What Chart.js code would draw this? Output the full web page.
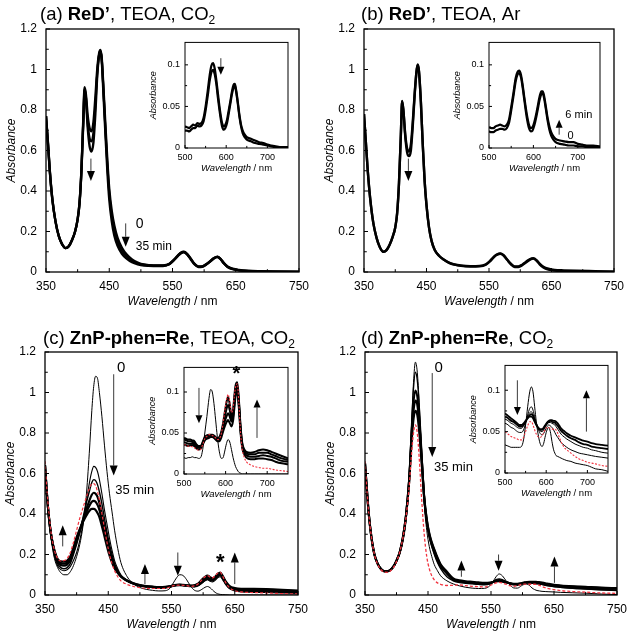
<!DOCTYPE html>
<html>
<head>
<meta charset="utf-8">
<script src="https://cdn.jsdelivr.net/npm/chart.js@4.4.1/dist/chart.umd.min.js"></script>
<style>
  body { margin: 0; background: #fff; width: 638px; height: 638px; position: relative; overflow: hidden; }
  canvas { position: absolute; }
</style>
</head>
<body>
<script>
// ---- wavelength grids (nm) ----
const wlAB = [350,353,356,360,365,370,375,381,386,391, 396,400,403,406,409,411,413,416,419,422,
  425,428,431,434,436,438,441,444,447,450, 454,458,463,470,478,486,495,505,520,535,
  545,552,558,563,568,573,579,585,591,597, 603,609,615,621,626,631,637,645,655,670, 690,720,750];
const wlCD = [350,353,356,360,365,370,375,380,385,390, 395,400,405,410,415,420,424,427,430,433,
  436,440,444,448,452,456,460,465,470,480, 490,500,510,520,530,540,548,553,558,563,
  568,574,580,586,592,598,603,607,611,615, 619,623,627,631,636,642,650,660,680,700, 725,750];
const wlIn = [500,505,510,515,520,525,530,535,540,545, 550,555,560,564,568,572,576,580,585,590,
  594,598,602,606,610,614,618,621,624,628, 632,636,640,645,650,660,670,680,690,700, 710,720,735,750];

// ---- tick values / labels ----
const mainXTicks = [350, 450, 550, 650, 750];
const mainXMinor = [400, 500, 600, 700];
const mainYTicks = [0, 0.2, 0.4, 0.6, 0.8, 1, 1.2];
const mainYLabels = ['0', '0.2', '0.4', '0.6', '0.8', '1', '1.2'];
const mainYMinor = [0.1, 0.3, 0.5, 0.7, 0.9, 1.1];
const inXTicks = [500, 600, 700];
const inXMinor = [550, 650];
const inYTicks = [0, 0.05, 0.1];
const inYLabels = ['0', '0.05', '0.1'];
const inYMinor = [0.025, 0.075];

// ---- (a) ReD', TEOA, CO2 : 0 -> 35 min ----
const a0 = [0.77,0.64,0.5,0.36,0.25,0.18,0.14,0.118,0.127,0.157, 0.2,0.26,0.34,0.5,0.76,0.912,0.88,0.77,0.71,0.695,
  0.74,0.86,1.0,1.08,1.097,1.06,0.9,0.72,0.55,0.41, 0.3,0.23,0.17,0.12,0.085,0.062,0.047,0.037,0.032,0.032,
  0.04,0.06,0.08,0.095,0.1,0.09,0.065,0.04,0.027,0.028, 0.038,0.052,0.068,0.076,0.065,0.045,0.027,0.016,0.01,0.006, 0.004,0.002,0.001];
const aMid = [0.77,0.64,0.5,0.36,0.25,0.18,0.14,0.118,0.127,0.157, 0.2,0.26,0.34,0.5,0.75,0.905,0.87,0.73,0.66,0.645,
  0.69,0.82,0.98,1.075,1.092,1.055,0.89,0.7,0.53,0.39, 0.28,0.205,0.15,0.105,0.075,0.055,0.042,0.035,0.031,0.031,
  0.039,0.059,0.079,0.094,0.099,0.089,0.064,0.039,0.026,0.027, 0.037,0.051,0.067,0.075,0.064,0.044,0.026,0.015,0.009,0.005, 0.003,0.002,0.001];
const a35 = [0.77,0.64,0.5,0.36,0.25,0.18,0.14,0.118,0.127,0.157, 0.2,0.26,0.34,0.5,0.74,0.9,0.86,0.71,0.62,0.595,
  0.64,0.78,0.97,1.07,1.088,1.05,0.87,0.68,0.5,0.36, 0.25,0.18,0.13,0.09,0.065,0.048,0.038,0.032,0.03,0.03,
  0.038,0.057,0.077,0.092,0.097,0.087,0.062,0.037,0.025,0.026, 0.036,0.05,0.066,0.074,0.063,0.043,0.025,0.014,0.008,0.004, 0.002,0.001,0];
const aIn0 = [0.026,0.025,0.024,0.026,0.028,0.027,0.03,0.029,0.03,0.036, 0.05,0.068,0.088,0.099,0.102,0.096,0.082,0.065,0.045,0.03,
  0.026,0.028,0.034,0.045,0.056,0.068,0.076,0.077,0.07,0.056, 0.04,0.028,0.021,0.016,0.013,0.011,0.009,0.007,0.006,0.004, 0.003,0.002,0.001,0.001];
const aIn35 = [0.021,0.021,0.02,0.022,0.024,0.024,0.027,0.026,0.027,0.032, 0.045,0.062,0.081,0.091,0.094,0.089,0.077,0.06,0.041,0.026,
  0.022,0.024,0.03,0.041,0.053,0.065,0.073,0.075,0.068,0.054, 0.038,0.026,0.018,0.013,0.01,0.008,0.006,0.005,0.004,0.003, 0.002,0.001,0.001,0];

// ---- (b) ReD', TEOA, Ar : 0 -> 6 min ----
const b0 = [0.78,0.64,0.5,0.36,0.24,0.17,0.125,0.1,0.108,0.135, 0.175,0.22,0.29,0.44,0.68,0.842,0.8,0.68,0.61,0.595,
  0.63,0.74,0.88,0.99,1.022,0.99,0.84,0.63,0.45,0.33, 0.22,0.155,0.11,0.08,0.06,0.045,0.036,0.03,0.027,0.028,
  0.036,0.054,0.074,0.085,0.09,0.082,0.06,0.038,0.025,0.025, 0.033,0.047,0.06,0.066,0.056,0.038,0.022,0.012,0.007,0.004, 0.003,0.002,0.001];
const b6 = [0.78,0.64,0.5,0.36,0.24,0.17,0.125,0.1,0.108,0.135, 0.175,0.22,0.29,0.44,0.68,0.845,0.8,0.67,0.59,0.572,
  0.6,0.72,0.87,0.99,1.025,0.99,0.84,0.63,0.45,0.33, 0.22,0.155,0.11,0.08,0.06,0.046,0.037,0.032,0.029,0.03,
  0.038,0.056,0.076,0.087,0.092,0.084,0.062,0.041,0.028,0.028, 0.036,0.05,0.063,0.068,0.059,0.041,0.026,0.016,0.01,0.008, 0.006,0.004,0.002];
const bIn0 = [0.02,0.019,0.019,0.021,0.022,0.023,0.023,0.022,0.024,0.03, 0.045,0.062,0.08,0.088,0.09,0.085,0.072,0.056,0.037,0.024,
  0.02,0.021,0.027,0.036,0.047,0.058,0.065,0.066,0.06,0.047, 0.033,0.022,0.015,0.01,0.007,0.005,0.004,0.003,0.003,0.002, 0.002,0.001,0.001,0.001];
const bIn6 = [0.025,0.024,0.024,0.026,0.027,0.028,0.027,0.026,0.028,0.034, 0.049,0.066,0.084,0.091,0.093,0.088,0.075,0.059,0.041,0.028,
  0.024,0.025,0.031,0.04,0.051,0.062,0.068,0.068,0.063,0.05, 0.036,0.026,0.019,0.014,0.011,0.009,0.008,0.007,0.007,0.005, 0.004,0.003,0.003,0.002];

// ---- (c) ZnP-phen=Re, TEOA, CO2 ----
const c0 = [0.64,0.5,0.38,0.27,0.18,0.135,0.11,0.1,0.1,0.115, 0.145,0.19,0.25,0.34,0.48,0.7,0.91,1.03,1.08,1.07,
  1.0,0.88,0.74,0.61,0.5,0.41,0.32,0.23,0.16,0.09, 0.055,0.037,0.028,0.023,0.02,0.021,0.035,0.06,0.085,0.1,
  0.097,0.075,0.045,0.024,0.019,0.028,0.038,0.042,0.036,0.024, 0.013,0.006,0.003,0.002,0.001,0,0,0,0,0, 0,0];
const c1 = [0.64,0.5,0.38,0.28,0.19,0.145,0.125,0.12,0.125,0.14, 0.17,0.21,0.27,0.35,0.45,0.55,0.61,0.635,0.63,0.61,
  0.57,0.5,0.42,0.35,0.28,0.22,0.17,0.13,0.1,0.07, 0.055,0.045,0.04,0.037,0.035,0.036,0.04,0.045,0.05,0.052,
  0.05,0.047,0.043,0.04,0.045,0.058,0.07,0.075,0.068,0.065, 0.072,0.085,0.09,0.075,0.05,0.03,0.02,0.015,0.013,0.012, 0.01,0.008];
const c2 = [0.64,0.5,0.39,0.29,0.2,0.155,0.135,0.13,0.135,0.155, 0.2,0.25,0.31,0.38,0.45,0.51,0.555,0.57,0.565,0.545,
  0.51,0.45,0.38,0.31,0.25,0.2,0.155,0.12,0.095,0.07, 0.055,0.045,0.04,0.037,0.035,0.036,0.04,0.045,0.048,0.05,
  0.048,0.046,0.043,0.042,0.047,0.06,0.072,0.078,0.072,0.07, 0.078,0.09,0.096,0.08,0.055,0.034,0.024,0.019,0.017,0.016, 0.013,0.011];
const c3 = [0.64,0.5,0.39,0.29,0.21,0.165,0.148,0.145,0.15,0.17, 0.215,0.265,0.315,0.37,0.42,0.465,0.495,0.505,0.5,0.485,
  0.455,0.4,0.34,0.28,0.225,0.18,0.145,0.115,0.092,0.07, 0.056,0.047,0.042,0.039,0.037,0.038,0.042,0.046,0.048,0.049,
  0.048,0.046,0.044,0.044,0.05,0.065,0.078,0.085,0.078,0.075, 0.082,0.095,0.102,0.085,0.058,0.037,0.027,0.023,0.022,0.021, 0.018,0.015];
const c4 = [0.64,0.5,0.39,0.29,0.215,0.17,0.158,0.155,0.16,0.18, 0.225,0.275,0.32,0.365,0.405,0.44,0.46,0.465,0.46,0.445,
  0.42,0.37,0.315,0.26,0.21,0.17,0.138,0.112,0.092,0.07, 0.057,0.048,0.043,0.04,0.038,0.039,0.043,0.047,0.049,0.05,
  0.049,0.047,0.045,0.046,0.053,0.07,0.084,0.09,0.083,0.079, 0.086,0.1,0.107,0.09,0.062,0.04,0.03,0.026,0.026,0.025, 0.022,0.019];
const c5 = [0.64,0.5,0.39,0.29,0.22,0.178,0.166,0.165,0.17,0.19, 0.235,0.285,0.325,0.36,0.39,0.415,0.425,0.425,0.42,0.405,
  0.385,0.34,0.29,0.24,0.195,0.16,0.132,0.11,0.092,0.071, 0.058,0.049,0.044,0.041,0.039,0.04,0.044,0.048,0.05,0.051,
  0.05,0.048,0.046,0.048,0.056,0.075,0.09,0.096,0.088,0.083, 0.09,0.104,0.111,0.094,0.066,0.044,0.034,0.03,0.03,0.029, 0.026,0.022];
const cRed = [0.66,0.52,0.41,0.3,0.22,0.18,0.168,0.17,0.18,0.21, 0.26,0.32,0.38,0.43,0.48,0.525,0.548,0.55,0.54,0.51,
  0.47,0.4,0.33,0.26,0.2,0.155,0.12,0.09,0.07,0.052, 0.042,0.036,0.033,0.032,0.032,0.033,0.04,0.046,0.048,0.049,
  0.048,0.046,0.043,0.045,0.054,0.075,0.09,0.096,0.088,0.085, 0.095,0.108,0.113,0.092,0.06,0.035,0.022,0.015,0.012,0.01, 0.007,0.005];
const cIn0 = [0.02,0.019,0.02,0.02,0.021,0.02,0.02,0.019,0.02,0.03, 0.05,0.07,0.092,0.103,0.1,0.086,0.066,0.046,0.027,0.019,
  0.02,0.028,0.037,0.042,0.039,0.03,0.02,0.014,0.009,0.005, 0.002,0.001,0,0,0,0,0,0,0,0, 0,0,0,0];
const cIn1 = [0.036,0.035,0.034,0.035,0.035,0.034,0.031,0.03,0.031,0.036, 0.041,0.043,0.044,0.045,0.045,0.044,0.042,0.04,0.04,0.045,
  0.052,0.058,0.063,0.066,0.062,0.058,0.065,0.08,0.095,0.1, 0.08,0.05,0.032,0.024,0.02,0.018,0.018,0.019,0.019,0.018, 0.017,0.015,0.013,0.012];
const cIn2 = [0.039,0.038,0.037,0.037,0.037,0.036,0.033,0.032,0.032,0.037, 0.043,0.045,0.046,0.046,0.046,0.045,0.043,0.042,0.042,0.048,
  0.056,0.064,0.07,0.074,0.07,0.064,0.07,0.085,0.099,0.104, 0.084,0.053,0.034,0.026,0.023,0.021,0.021,0.022,0.023,0.022, 0.021,0.019,0.016,0.015];
const cIn3 = [0.042,0.041,0.04,0.04,0.039,0.038,0.035,0.033,0.033,0.038, 0.044,0.046,0.047,0.047,0.047,0.046,0.044,0.043,0.044,0.05,
  0.059,0.069,0.079,0.084,0.078,0.068,0.074,0.09,0.104,0.108, 0.087,0.056,0.036,0.028,0.025,0.024,0.024,0.026,0.026,0.026, 0.024,0.022,0.019,0.017];
const cIn4 = [0.044,0.043,0.042,0.042,0.041,0.04,0.036,0.034,0.034,0.039, 0.045,0.047,0.048,0.048,0.048,0.047,0.045,0.044,0.045,0.052,
  0.062,0.075,0.087,0.094,0.085,0.072,0.078,0.095,0.108,0.112, 0.09,0.058,0.038,0.03,0.027,0.026,0.027,0.029,0.03,0.029, 0.027,0.025,0.022,0.019];
const cInRed = [0.036,0.035,0.034,0.034,0.033,0.032,0.03,0.029,0.03,0.036, 0.043,0.046,0.048,0.048,0.047,0.046,0.044,0.042,0.043,0.05,
  0.062,0.077,0.09,0.097,0.088,0.075,0.08,0.095,0.106,0.11, 0.085,0.05,0.03,0.02,0.015,0.011,0.009,0.008,0.007,0.007, 0.006,0.005,0.004,0.003];

// ---- (d) ZnP-phen=Re, CO2 ----
const d0 = [0.65,0.52,0.4,0.29,0.2,0.155,0.13,0.118,0.115,0.12, 0.135,0.16,0.2,0.26,0.36,0.55,0.85,1.05,1.15,1.1,
  0.95,0.68,0.45,0.32,0.24,0.19,0.15,0.12,0.095,0.07, 0.055,0.045,0.038,0.034,0.032,0.033,0.045,0.065,0.09,0.104,
  0.095,0.07,0.05,0.035,0.034,0.045,0.053,0.054,0.047,0.035, 0.027,0.022,0.02,0.018,0.017,0.016,0.015,0.013,0.011,0.009, 0.005,0.002];
const d1 = [0.65,0.52,0.4,0.29,0.2,0.155,0.13,0.118,0.116,0.122, 0.14,0.17,0.21,0.28,0.39,0.58,0.85,1.02,1.1,1.06,
  0.94,0.72,0.5,0.37,0.29,0.24,0.2,0.16,0.13,0.09, 0.07,0.061,0.058,0.055,0.052,0.05,0.055,0.065,0.076,0.08,
  0.076,0.066,0.058,0.052,0.052,0.056,0.06,0.061,0.06,0.058, 0.056,0.055,0.054,0.052,0.048,0.045,0.042,0.038,0.033,0.03, 0.026,0.023];
const d2 = [0.65,0.52,0.4,0.29,0.2,0.155,0.13,0.118,0.117,0.123, 0.14,0.17,0.21,0.28,0.39,0.57,0.8,0.95,1.01,0.98,
  0.88,0.68,0.48,0.36,0.29,0.245,0.21,0.17,0.14,0.105, 0.075,0.066,0.062,0.059,0.056,0.054,0.057,0.064,0.071,0.074,
  0.071,0.064,0.057,0.052,0.05,0.054,0.058,0.061,0.061,0.06, 0.059,0.058,0.057,0.054,0.05,0.047,0.043,0.04,0.035,0.031, 0.027,0.024];
const d3 = [0.65,0.52,0.4,0.29,0.2,0.155,0.13,0.118,0.117,0.123, 0.14,0.17,0.21,0.28,0.39,0.56,0.78,0.91,0.96,0.94,
  0.85,0.67,0.48,0.37,0.3,0.255,0.22,0.18,0.148,0.11, 0.078,0.068,0.064,0.061,0.058,0.057,0.059,0.064,0.069,0.071,
  0.069,0.063,0.058,0.054,0.053,0.056,0.06,0.063,0.064,0.064, 0.063,0.063,0.062,0.059,0.055,0.051,0.048,0.045,0.041,0.037, 0.034,0.031];
const d4 = [0.65,0.52,0.4,0.29,0.2,0.155,0.13,0.118,0.117,0.123, 0.14,0.17,0.21,0.28,0.39,0.56,0.76,0.87,0.91,0.89,
  0.81,0.65,0.48,0.375,0.305,0.26,0.225,0.185,0.152,0.115, 0.082,0.072,0.068,0.065,0.062,0.06,0.061,0.064,0.067,0.068,
  0.066,0.062,0.058,0.055,0.055,0.058,0.062,0.064,0.065,0.065, 0.065,0.064,0.063,0.061,0.058,0.055,0.05,0.047,0.043,0.04, 0.036,0.034];
const dRed = [0.66,0.52,0.4,0.29,0.2,0.152,0.126,0.114,0.112,0.118, 0.135,0.165,0.21,0.28,0.38,0.53,0.7,0.8,0.84,0.8,
  0.68,0.47,0.3,0.19,0.13,0.095,0.075,0.06,0.053,0.047, 0.048,0.05,0.046,0.043,0.041,0.04,0.046,0.053,0.06,0.062,
  0.059,0.053,0.046,0.043,0.046,0.052,0.054,0.054,0.053,0.053, 0.053,0.052,0.048,0.042,0.036,0.031,0.027,0.022,0.017,0.014, 0.01,0.008];
const dIn0 = [0.034,0.033,0.032,0.031,0.031,0.031,0.031,0.031,0.032,0.04, 0.058,0.08,0.098,0.104,0.098,0.08,0.062,0.048,0.036,0.032,
  0.036,0.045,0.052,0.055,0.05,0.038,0.028,0.024,0.021,0.02, 0.019,0.018,0.017,0.016,0.015,0.014,0.012,0.011,0.01,0.009, 0.007,0.005,0.004,0.002];
const dIn1 = [0.06,0.059,0.057,0.055,0.054,0.052,0.05,0.049,0.049,0.052, 0.06,0.07,0.078,0.08,0.076,0.068,0.06,0.054,0.048,0.046,
  0.048,0.052,0.056,0.058,0.057,0.055,0.052,0.049,0.046,0.043, 0.04,0.037,0.035,0.033,0.031,0.028,0.026,0.024,0.023,0.022, 0.021,0.02,0.019,0.018];
const dIn2 = [0.065,0.064,0.062,0.06,0.059,0.057,0.055,0.054,0.054,0.057, 0.062,0.068,0.073,0.074,0.071,0.065,0.059,0.055,0.051,0.05,
  0.052,0.056,0.059,0.061,0.061,0.06,0.059,0.058,0.056,0.053, 0.05,0.047,0.045,0.043,0.041,0.038,0.035,0.033,0.031,0.03, 0.028,0.027,0.025,0.024];
const dIn3 = [0.068,0.067,0.065,0.063,0.062,0.06,0.058,0.056,0.056,0.058, 0.062,0.067,0.07,0.071,0.069,0.064,0.059,0.055,0.052,0.052,
  0.054,0.057,0.06,0.062,0.063,0.062,0.061,0.061,0.059,0.057, 0.054,0.051,0.049,0.047,0.045,0.042,0.04,0.037,0.035,0.034, 0.032,0.031,0.03,0.029];
const dIn4 = [0.072,0.07,0.068,0.066,0.064,0.062,0.06,0.058,0.058,0.06, 0.063,0.066,0.068,0.068,0.066,0.062,0.058,0.055,0.053,0.053,
  0.055,0.058,0.061,0.063,0.064,0.064,0.063,0.063,0.062,0.06, 0.057,0.054,0.052,0.05,0.048,0.045,0.043,0.041,0.039,0.038, 0.036,0.035,0.034,0.033];
const dInRed = [0.05,0.048,0.046,0.044,0.043,0.042,0.041,0.04,0.04,0.043, 0.05,0.057,0.062,0.062,0.058,0.052,0.047,0.044,0.043,0.045,
  0.049,0.053,0.055,0.055,0.054,0.053,0.053,0.053,0.052,0.048, 0.043,0.038,0.034,0.03,0.028,0.024,0.02,0.017,0.015,0.013, 0.012,0.011,0.009,0.008];

const FONT = "'Liberation Sans', Arial, sans-serif";
const RED = '#f2333f';

function line(wl, ys, width, color, dash) {
  return {
    data: wl.map((x, i) => ({ x, y: ys[i] })),
    borderColor: color || '#000',
    borderWidth: width || 1,
    borderDash: dash || [],
    pointRadius: 0,
    cubicInterpolationMode: 'monotone',
    fill: false
  };
}

function drawRuns(ctx, runs, x, y, size, align) {
  const fontOf = r => [r.s, (r.size || size) + 'px', FONT].filter(Boolean).join(' ');
  let total = 0;
  runs.forEach(r => { ctx.font = fontOf(r); total += ctx.measureText(r.t).width; });
  let cx = align === 'center' ? x - total / 2 : x;
  ctx.textAlign = 'left';
  runs.forEach(r => {
    ctx.font = fontOf(r);
    ctx.fillText(r.t, cx, y + (r.dy || 0));
    cx += ctx.measureText(r.t).width;
  });
}

// frame, inward ticks, titles and arrows
function makeDeco(d) {
  return {
    id: 'deco',
    beforeDraw(chart) {
      if (!d.white) return;
      const a = chart.chartArea, ctx = chart.ctx;
      ctx.save();
      ctx.fillStyle = '#fff';
      ctx.fillRect(a.left, a.top, a.right - a.left, a.bottom - a.top);
      ctx.restore();
    },
    afterDraw(chart) {
      const { ctx, chartArea: a, scales } = chart;
      const px = v => scales.x.getPixelForValue(v);
      const py = v => scales.y.getPixelForValue(v);
      ctx.save();
      ctx.strokeStyle = '#000';
      ctx.lineWidth = 1;
      ctx.beginPath();
      scales.x.ticks.forEach(t => { ctx.moveTo(px(t.value), a.bottom); ctx.lineTo(px(t.value), a.bottom - d.tick); });
      d.xMinor.forEach(v => { ctx.moveTo(px(v), a.bottom); ctx.lineTo(px(v), a.bottom - d.tick * 0.7); });
      scales.y.ticks.forEach(t => { ctx.moveTo(a.left, py(t.value)); ctx.lineTo(a.left + d.tick, py(t.value)); });
      d.yMinor.forEach(v => { ctx.moveTo(a.left, py(v)); ctx.lineTo(a.left + d.tick * 0.7, py(v)); });
      ctx.stroke();
      ctx.lineWidth = d.frame;
      ctx.strokeRect(a.left, a.top, a.right - a.left, a.bottom - a.top);

      ctx.fillStyle = '#000';
      ctx.textBaseline = 'alphabetic';
      // y title
      ctx.save();
      ctx.translate(a.left - d.yTitleDx, (a.top + a.bottom) / 2);
      ctx.rotate(-Math.PI / 2);
      ctx.textBaseline = 'middle';
      drawRuns(ctx, [{ t: 'Absorbance', s: 'italic' }], 0, 0, d.yTitleSize, 'center');
      ctx.restore();
      // x title
      drawRuns(ctx, [{ t: 'Wavelength', s: 'italic' }, { t: ' / nm' }], (a.left + a.right) / 2, a.bottom + d.xTitleDy, d.xTitleSize, 'center');
      // panel title
      if (d.title) drawRuns(ctx, d.title, d.titlePos[0], d.titlePos[1], 18.5, 'left');

      // arrows
      (d.arrows || []).forEach(([x, y0, y1]) => {
        const X = px(x), Y0 = py(y0), Y1 = py(y1);
        const dir = Y1 > Y0 ? 1 : -1;
        const [hw, hh] = d.head;
        ctx.strokeStyle = '#3a3a3a';
        ctx.lineWidth = 1;
        ctx.beginPath();
        ctx.moveTo(X, Y0);
        ctx.lineTo(X, Y1 - dir * hh);
        ctx.stroke();
        ctx.fillStyle = '#000';
        ctx.beginPath();
        ctx.moveTo(X, Y1);
        ctx.lineTo(X - hw / 2, Y1 - dir * hh);
        ctx.lineTo(X + hw / 2, Y1 - dir * hh);
        ctx.closePath();
        ctx.fill();
      });
      // labels
      ctx.textBaseline = 'middle';
      (d.texts || []).forEach(([t, x, y, size, style, align]) => {
        drawRuns(ctx, [{ t, s: style }], px(x), py(y), size, align || 'left');
      });
      ctx.restore();
    }
  };
}

function spectrum(cv, area, s) {
  const W = cv.width, H = cv.height;
  const tickFont = { family: FONT, size: s.fs };
  return new Chart(cv, {
    type: 'line',
    data: { datasets: s.sets },
    options: {
      responsive: false,
      animation: false,
      devicePixelRatio: 1,
      events: [],
      layout: { padding: { top: area.t, right: W - area.r, left: 0, bottom: 0 } },
      plugins: { legend: { display: false }, tooltip: { enabled: false } },
      scales: {
        x: {
          type: 'linear', min: s.xMin, max: s.xMax,
          grid: { display: false, drawTicks: false }, border: { display: false },
          afterBuildTicks: sc => { sc.ticks = s.xTicks.map(v => ({ value: v })); },
          afterFit: sc => { sc.height = H - area.b; },
          ticks: { autoSkip: false, maxRotation: 0, padding: s.xPad, color: '#000', font: tickFont,
                   callback: v => String(v) }
        },
        y: {
          type: 'linear', min: 0, max: s.yMax,
          grid: { display: false, drawTicks: false }, border: { display: false },
          afterBuildTicks: sc => { sc.ticks = s.yTicks.map(v => ({ value: v })); },
          afterFit: sc => { sc.width = area.l; },
          ticks: { autoSkip: false, padding: s.yPad, color: '#000', font: tickFont,
                   callback: (v, i) => s.yLabels[i] }
        }
      }
    },
    plugins: [makeDeco(s.deco)]
  });
}

function addCanvas(left, top, w, h) {
  const c = document.createElement('canvas');
  c.width = w; c.height = h;
  c.style.left = left + 'px'; c.style.top = top + 'px';
  c.style.width = w + 'px'; c.style.height = h + 'px';
  document.body.appendChild(c);
  return c;
}

// main panel: quadrant canvas, plot box given in page coordinates
function mainPanel(qx, qy, box, sets, title, arrows, texts) {
  const cv = addCanvas(qx, qy, 319, 319);
  const area = { l: box[0] - qx, t: box[1] - qy, r: box[2] - qx, b: box[3] - qy };
  spectrum(cv, area, {
    sets, xMin: 350, xMax: 750, yMax: 1.2, fs: 12, xPad: 7, yPad: 9,
    xTicks: mainXTicks, yTicks: mainYTicks, yLabels: mainYLabels,
    deco: { frame: 1.3, tick: 4, xMinor: mainXMinor, yMinor: mainYMinor,
            yTitleDx: 34, yTitleSize: 12, xTitleDy: 33, xTitleSize: 12,
            title, titlePos: [title.pos[0] - qx, title.pos[1] - qy], head: [8, 10], arrows, texts }
  });
}

function insetPanel(box, yMax, sets, arrows, texts) {
  const L = 48, T = 8, R = 8, B = 34;
  const cv = addCanvas(box[0] - L, box[1] - T, box[2] - box[0] + L + R, box[3] - box[1] + T + B);
  const area = { l: L, t: T, r: L + box[2] - box[0], b: T + box[3] - box[1] };
  spectrum(cv, area, {
    sets, xMin: 500, xMax: 750, yMax, fs: 9, xPad: 4, yPad: 5,
    xTicks: inXTicks, yTicks: inYTicks, yLabels: inYLabels,
    deco: { white: true, frame: 1, tick: 3, xMinor: inXMinor, yMinor: inYMinor,
            yTitleDx: 32, yTitleSize: 9, xTitleDy: 23, xTitleSize: 9.5,
            head: [7, 8], arrows, texts }
  });
}

const tA = [{ t: '(a) ' }, { t: 'ReD\u2019', s: 'bold' }, { t: ', TEOA, CO' }, { t: '2', size: 12, dy: 4 }];
tA.pos = [40, 20];
const tB = [{ t: '(b) ' }, { t: 'ReD\u2019', s: 'bold' }, { t: ', TEOA, Ar' }];
tB.pos = [361, 20];
const tC = [{ t: '(c) ' }, { t: 'ZnP-phen=Re', s: 'bold' }, { t: ', TEOA, CO' }, { t: '2', size: 12, dy: 4 }];
tC.pos = [43, 344];
const tD = [{ t: '(d) ' }, { t: 'ZnP-phen=Re', s: 'bold' }, { t: ', CO' }, { t: '2', size: 12, dy: 4 }];
tD.pos = [361, 344];

// (a)
mainPanel(0, 0, [46, 29, 299, 272],
  [line(wlAB, a0, 2.4), line(wlAB, aMid, 2.2), line(wlAB, a35, 2.4)], tA,
  [[421, 0.56, 0.45], [476, 0.24, 0.125]],
  [['0', 492, 0.235, 14], ['35 min', 492, 0.125, 12]]);
// (b)
mainPanel(319, 0, [364, 29, 614, 272],
  [line(wlAB, b0, 2.4), line(wlAB, b6, 2.4)], tB,
  [[421, 0.56, 0.45]], []);
// (c)
mainPanel(0, 319, [45, 352, 298, 595],
  [line(wlCD, cRed, 1.2, RED, [3, 2]), line(wlCD, c0, 1), line(wlCD, c1, 1.1), line(wlCD, c2, 1.4),
   line(wlCD, c3, 2.2), line(wlCD, c4, 2.2), line(wlCD, c5, 2.2)], tC,
  [[458.6, 1.09, 0.59], [378, 0.24, 0.345], [508, 0.054, 0.153], [560, 0.21, 0.095], [650, 0.054, 0.21]],
  [['0', 464, 1.12, 15], ['35 min', 461, 0.515, 13], ['*', 627, 0.16, 22, 'bold', 'center']]);
// (d)
mainPanel(319, 319, [365, 352, 617, 595],
  [line(wlCD, dRed, 1.3, RED, [3, 2]), line(wlCD, d0, 1), line(wlCD, d1, 1.3), line(wlCD, d2, 2),
   line(wlCD, d3, 2.2), line(wlCD, d4, 2.2)], tD,
  [[456.7, 1.096, 0.682], [503, 0.09, 0.17], [562, 0.2, 0.12], [650.7, 0.06, 0.19]],
  [['0', 460.4, 1.12, 15], ['35 min', 459.4, 0.632, 13]]);

// insets
insetPanel([185, 40, 288, 148], 0.127,
  [line(wlIn, aIn0, 2.2), line(wlIn, aIn35, 2.2)],
  [[587, 0.108, 0.088]], []);
insetPanel([489, 40, 600, 148], 0.127,
  [line(wlIn, bIn0, 2.2), line(wlIn, bIn6, 2.2)],
  [[658, 0.016, 0.034]], [['6 min', 672, 0.04, 11], ['0', 677, 0.014, 11]]);
insetPanel([184, 365, 288, 474], 0.13,
  [line(wlIn, cInRed, 1.1, RED, [2, 1.5]), line(wlIn, cIn0, 1), line(wlIn, cIn1, 2), line(wlIn, cIn2, 2),
   line(wlIn, cIn3, 2), line(wlIn, cIn4, 2)],
  [[536, 0.105, 0.062], [675.5, 0.044, 0.091]], [['*', 626, 0.121, 20, 'bold', 'center']]);
insetPanel([505, 363, 608, 473], 0.13,
  [line(wlIn, dInRed, 1.1, RED, [2, 1.5]), line(wlIn, dIn0, 1), line(wlIn, dIn1, 1), line(wlIn, dIn2, 1),
   line(wlIn, dIn3, 1.8), line(wlIn, dIn4, 1.8)],
  [[530, 0.112, 0.07], [697.6, 0.05, 0.1]], []);
</script>
</body>
</html>
